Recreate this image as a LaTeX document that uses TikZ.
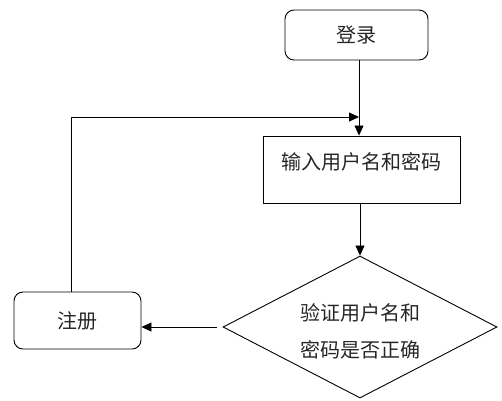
\documentclass[tikz,border=0pt]{standalone}
\usepackage{fontspec}
\newfontfamily\cjk{Noto Sans CJK SC}
\usetikzlibrary{shapes.geometric,arrows.meta,calc}
\begin{document}
\begin{tikzpicture}[x=1pt,y=-1pt,
  every node/.style={font=\cjk\fontsize{20}{37}\selectfont, text=black!85},
  rbox/.style={draw, line width=0.9pt, rounded corners=9pt, inner sep=0pt},
  pbox/.style={draw, line width=0.9pt, inner sep=0pt},
  dbox/.style={draw, diamond, aspect=1.93, line width=0.9pt, inner sep=0pt, align=center},
  conn/.style={line width=0.8pt, -{Triangle[length=10pt,width=9pt]}}]
\useasboundingbox (0,0) rectangle (502,400);
\node[rbox, minimum width=143pt, minimum height=50pt] (login) at (356.5,35) {登录};
\node[pbox, minimum width=197pt, minimum height=67pt, text height=16pt, text depth=16pt] (input) at (361.5,169.5) {输入用户名和密码};
\node[dbox, minimum width=274pt, minimum height=142pt] (dia) at (360,327) {\rule{0pt}{26pt}验证用户名和\\密码是否正确};
\node[rbox, minimum width=127pt, minimum height=57pt] (reg) at (77.5,320.5) {注册};
\coordinate (join) at (359,117);
\draw[conn] (login.south -| join) -- (input.north -| join);
\draw[conn] ([xshift=-6.5pt]reg.north) |- (join);
\draw[conn] (input.south -| dia.north) -- (dia.north);
\draw[conn] ([xshift=-6pt]dia.west) -- (dia.west -| reg.east);
\end{tikzpicture}
\end{document}
